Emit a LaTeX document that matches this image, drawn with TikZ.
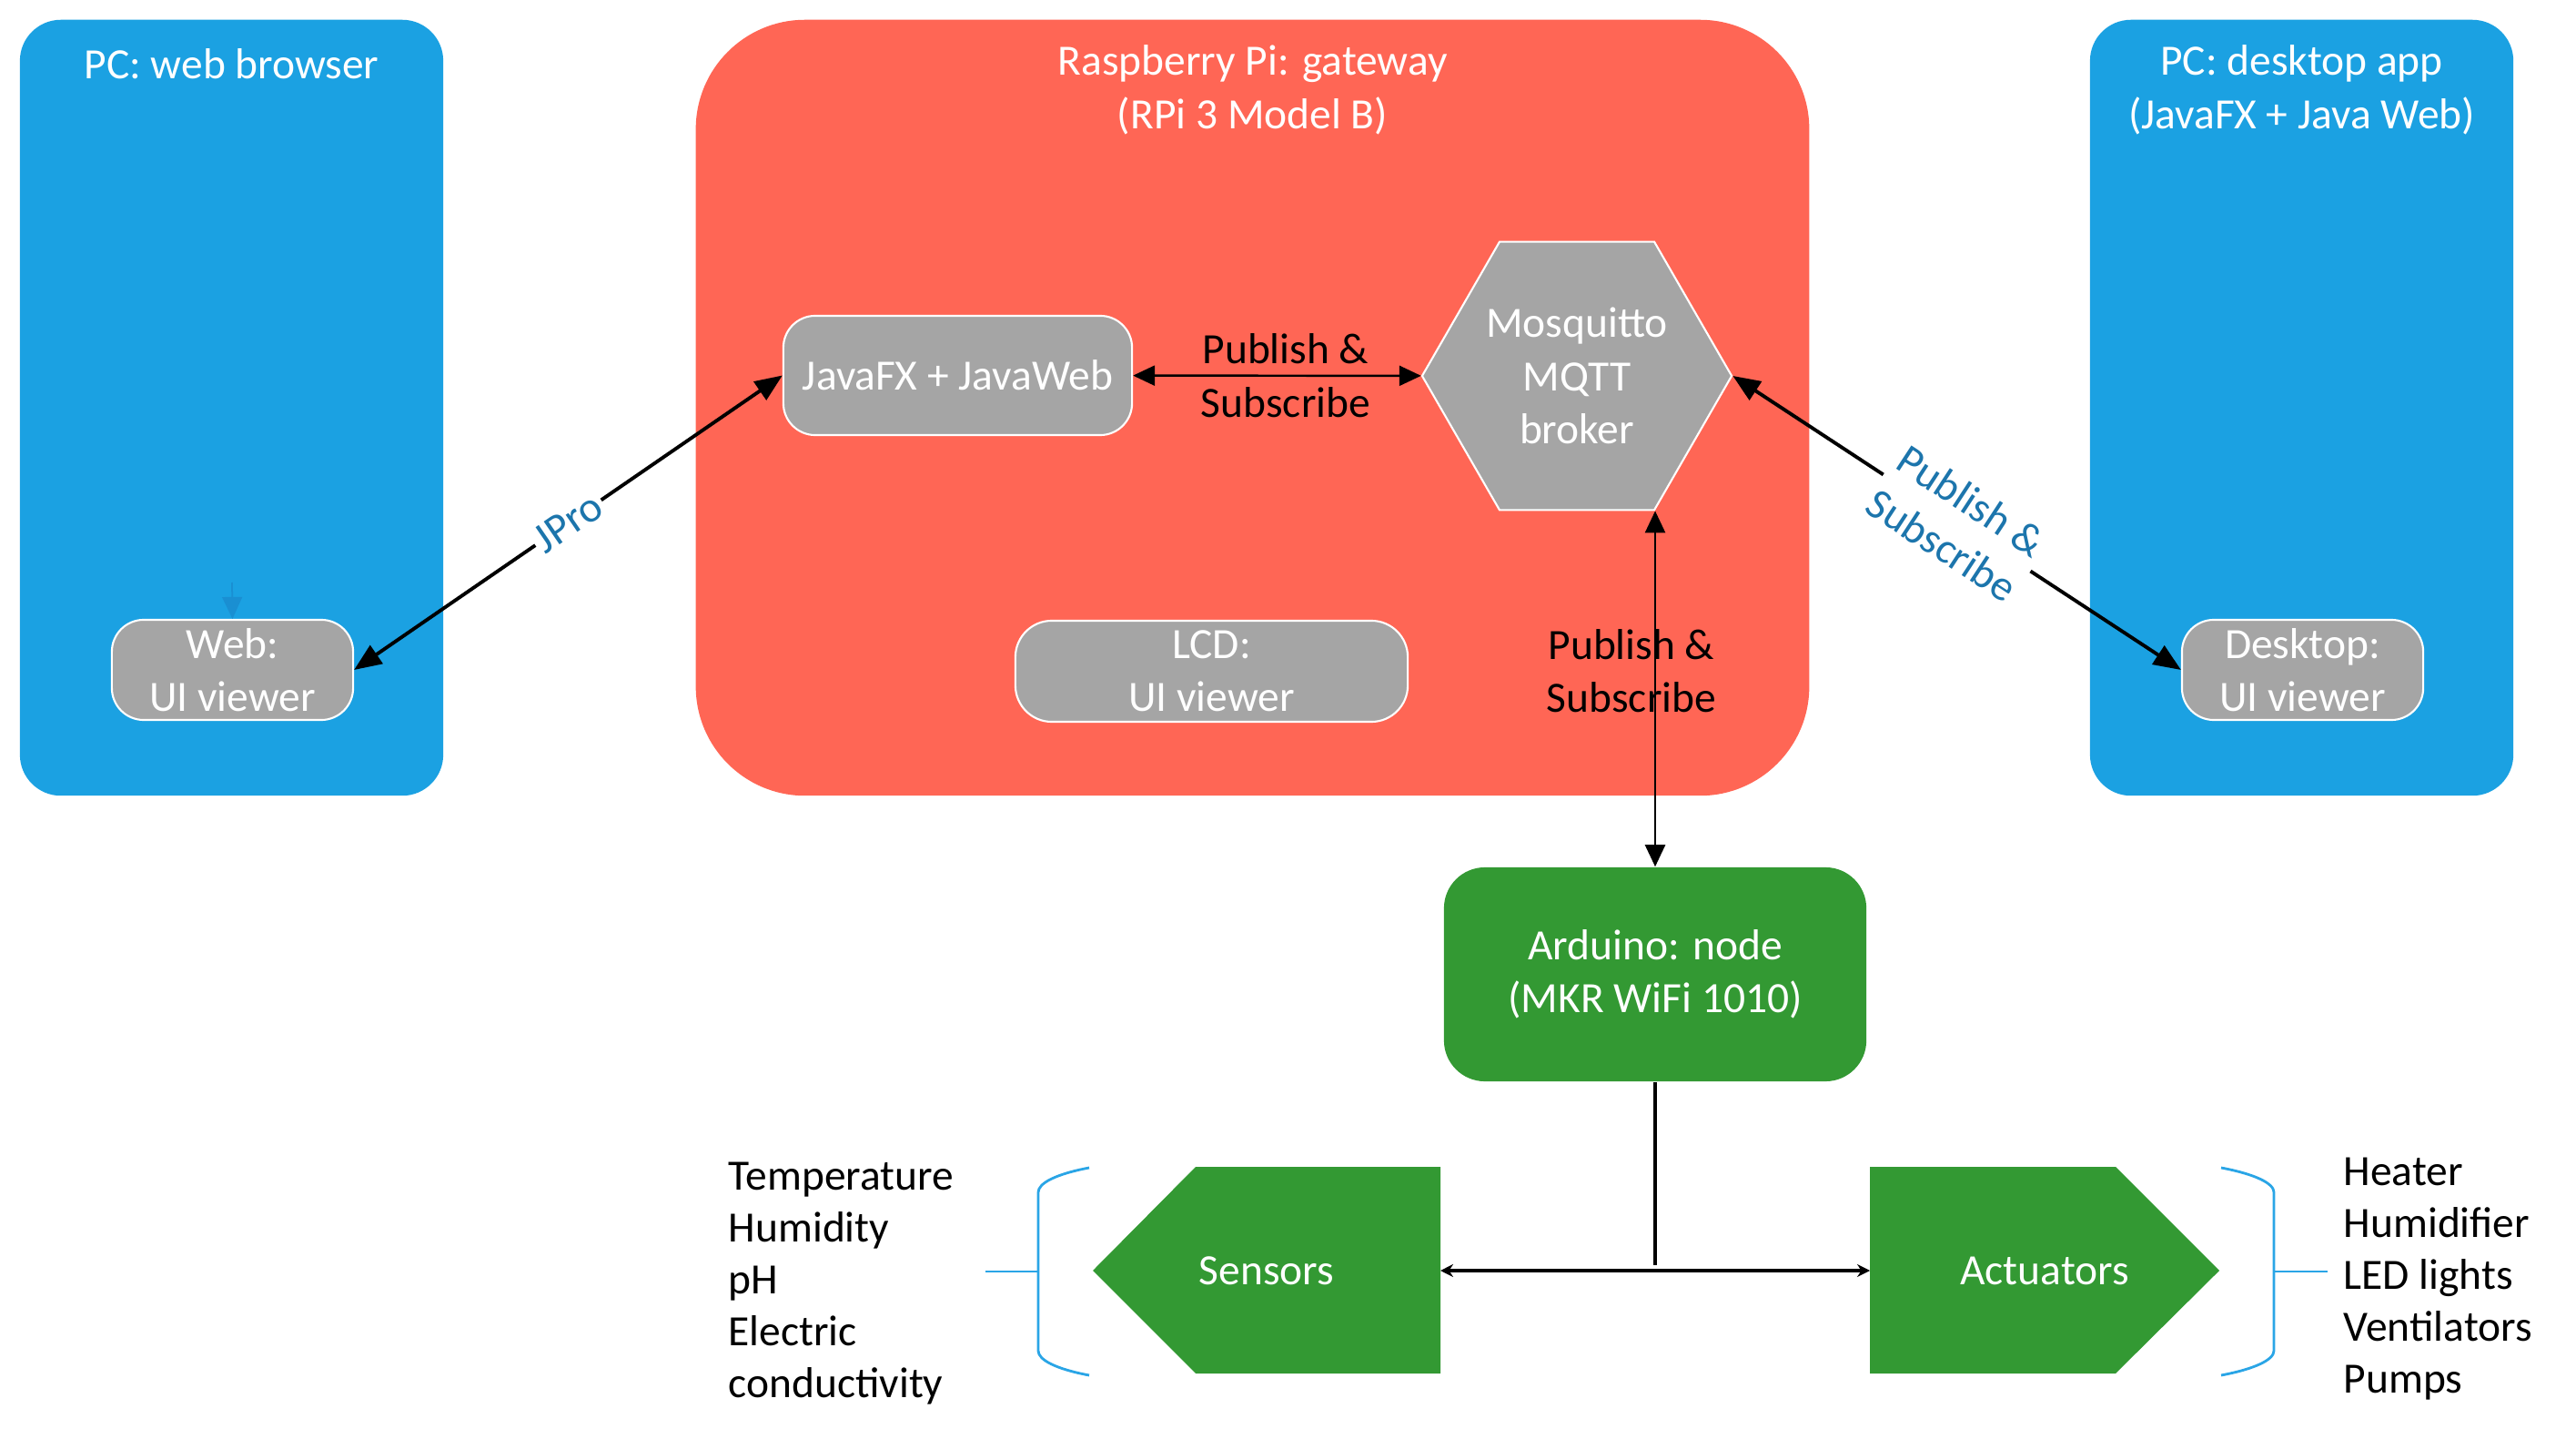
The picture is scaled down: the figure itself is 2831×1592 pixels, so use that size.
\documentclass[tikz,border=0pt]{standalone}
\usepackage{fontspec}
\setmainfont{Carlito}
\usetikzlibrary{arrows.meta, positioning, shapes.geometric}

\definecolor{pcblue}{HTML}{1BA1E2}
\definecolor{pired}{HTML}{FF6655}
\definecolor{viewgrey}{HTML}{A5A5A5}
\definecolor{nodegreen}{HTML}{339933}
\definecolor{linkblue}{HTML}{1C75AC}
\definecolor{bracketblue}{HTML}{2AA5E6}
\definecolor{tickblue}{HTML}{1A8FD2}

\begin{document}
\begin{tikzpicture}[x=0.01cm, y=-0.01cm,
	every node/.style={font=\fontsize{13.5}{16.6}\selectfont, align=center, inner sep=2pt},
	device/.style={fill=pcblue, rounded corners=0.45cm, minimum width=4.65cm, minimum height=8.52cm},
	gateway/.style={fill=pired, rounded corners=1.2cm, minimum width=12.23cm, minimum height=8.52cm},
	title/.style={text=white},
	viewer/.style={fill=viewgrey, draw=white, line width=0.6pt, rounded corners=0.35cm, text=white},
	broker/.style={regular polygon, regular polygon sides=6, minimum size=3.4cm, inner sep=0pt, fill=viewgrey, draw=white, line width=0.6pt, text=white},
	arduino/.style={fill=nodegreen, rounded corners=0.45cm, minimum width=4.64cm, minimum height=2.35cm, text=white},
	weblink/.style={<->, >={Triangle[length=3mm,width=2.4mm]}, line width=1.1pt},
	pslink/.style={<->, >={Triangle[length=2.4mm,width=2.2mm]}, line width=0.7pt},
	busline/.style={<->, >={Stealth[length=1.4mm,width=1.4mm]}, line width=1.1pt},
	bracket/.style={draw=bracketblue, line width=0.8pt},
	linklabel/.style={sloped, fill=white, inner sep=1pt, text=linkblue},
	itemlist/.style={anchor=west, align=left, inner sep=0pt, font=\fontsize{13.5}{16.2}\selectfont}
	]
	
	\useasboundingbox (0,0) rectangle (2831,1592);
	
	% containers
	\node (browser) [device] at (254.5,448) {};
	\node (pi) [gateway] at (1376.5,448) {};
	\node (desktop) [device] at (2529.5,448) {};
	
	\node (browsertitle) [title] at (254.5,70) {PC: web browser};
	\node (pititle) [title] at (1376.5,99) {Raspberry Pi: gateway\\(RPi 3 Model B)};
	\node (desktoptitle) [title] at (2529.5,99) {PC: desktop app\\(JavaFX + Java Web)};
	
	% inner blocks
	\node (javafx) [viewer, minimum width=3.83cm, minimum height=1.31cm] at (1052.5,412.5) {JavaFX + JavaWeb};
	\node (mqtt) [broker] at (1733,413) {Mosquitto\\MQTT\\broker};
	\node (lcd) [viewer, minimum width=4.31cm, minimum height=1.11cm, rounded corners=0.4cm] at (1331.5,737.5) {LCD:\\UI viewer};
	\node (web) [viewer, minimum width=2.65cm, minimum height=1.1cm] at (255.5,736) {Web:\\UI viewer};
	\node (desk) [viewer, minimum width=2.65cm, minimum height=1.1cm] at (2530.5,736) {Desktop:\\UI viewer};
	\node (ard) [arduino] at (1819,1070.5) {Arduino: node\\(MKR WiFi 1010)};
	
	\coordinate (webtick) at (255,640);
	\draw [-{Triangle[length=2.4mm,width=2.2mm]}, draw=tickblue, fill=tickblue, line width=0.5pt] (webtick) -- (web.north);
	
	% links
	\path [weblink]
	(javafx.west) edge node [linklabel] {JPro} (web.east)
	(mqtt.east) edge node [linklabel] {Publish \&\\Subscribe} (desk.west);
	
	\coordinate (mqttfoot) at (ard.north |- mqtt.south);
	\path [pslink]
	(javafx) edge node [pos=0.53] {Publish \&\\Subscribe} (mqtt)
	(mqttfoot) edge node [pos=0.45, xshift=-0.26cm] {Publish \&\\Subscribe} (ard);
	
	% sensors and actuators
	\fill [nodegreen] (1201,1396) -- (1314,1282) -- (1583,1282) -- (1583,1509) -- (1314,1509) -- cycle;
	\fill [nodegreen] (2055,1282) -- (2325,1282) -- (2439,1396) -- (2325,1509) -- (2055,1509) -- cycle;
	\node (sens) [text=white] at (1392,1396) {Sensors};
	\node (act) [text=white] at (2247,1396) {Actuators};
	
	\coordinate (sensport) at (1583,1396);
	\coordinate (actport) at (2055,1396);
	\coordinate (split) at (1819,1390);
	\draw [line width=0.9pt] (ard.south) -- (split);
	\draw [busline] (sensport) -- (actport);
	
	\draw [bracket] (1197,1283) .. controls (1160,1290) and (1141,1300) .. (1141,1310) -- (1141,1484) .. controls (1141,1494) and (1160,1504) .. (1197,1511);
	\draw [bracket] (1083,1397) -- (1141,1397);
	\draw [bracket] (2441,1283) .. controls (2478,1290) and (2499,1300) .. (2499,1310) -- (2499,1484) .. controls (2499,1494) and (2478,1504) .. (2441,1511);
	\draw [bracket] (2499,1397) -- (2558,1397);
	
	\node (senslist) [itemlist] at (800,1410) {Temperature\\Humidity\\pH\\Electric\\conductivity};
	\node (actlist) [itemlist] at (2575,1405) {Heater\\Humidifier\\LED lights\\Ventilators\\Pumps};
	
\end{tikzpicture}
\end{document}
